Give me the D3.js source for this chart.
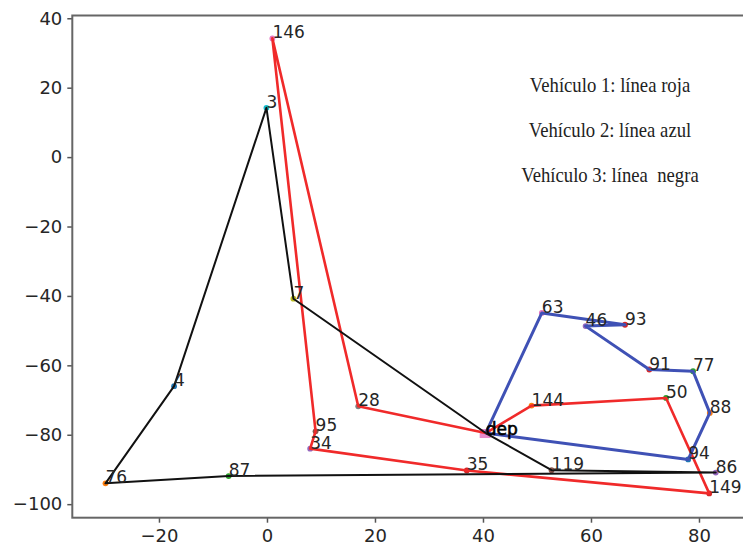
<!DOCTYPE html>
<html><head><meta charset="utf-8">
<script src="https://cdn.jsdelivr.net/npm/d3@7"></script>
<style>body{margin:0;background:#fff}svg{display:block}</style>
</head><body>
<script>
const nodeIds = ["dep","146","3","7","4","76","87","95","34","28","35","119","86","149","94","88","77","91","50","144","46","93","63"];
const nodeX   = [40.5, 1.0, -0.1, 4.9, -17.2, -29.9, -7.1, 9.0, 8.0, 16.9, 37.0, 52.7, 83.1, 81.9, 78.0, 82.0, 78.9, 70.8, 73.9, 49.0, 59.0, 66.3, 50.9];
const nodeY   = [-79.5, 34.2, 14.2, -40.8, -66.0, -94.0, -91.9, -79.0, -84.0, -71.8, -90.3, -90.2, -90.9, -96.9, -87.1, -73.7, -61.7, -61.2, -69.4, -71.6, -48.7, -48.3, -44.9];
const nodeColor = ["#e377c2","#e377c2","#17becf","#bcbd22","#1f77b4","#ff7f0e","#2ca02c","#8c564b","#9467bd","#7f7f7f","#d62728","#8c564b","#9467bd","#d62728","#1f77b4","#ff7f0e","#2ca02c","#d62728","#2ca02c","#ff7f0e","#9467bd","#d62728","#e377c2"];
const route1 = ["dep","144","50","149","35","34","95","146","28","dep"];
const route2 = ["dep","63","93","46","91","77","88","94","dep"];
const route3 = ["dep","7","3","4","76","87","86","119","dep"];
const routeColors = ["#f02a2a","#3f51b5","#111111"];
const notes = ["Vehículo 1: línea roja","Vehículo 2: línea azul","Vehículo 3: línea  negra"];
const xTicks = [-20,0,20,40,60,80];
const yTicks = [-100,-80,-60,-40,-20,0,20,40];

const W = 743, H = 548;
const svg = d3.select("body").append("svg").attr("width",W).attr("height",H);
const x = d3.scaleLinear().domain([-36.05, 88.65]).range([72.3, 745.7]);
const y = d3.scaleLinear().domain([-103.9, 40.8]).range([517.7, 15.5]);
const font = "DejaVu Sans";
const nodes = new Map(nodeIds.map((id,i)=>[id,{x:nodeX[i],y:nodeY[i],c:nodeColor[i]}]));

// markers
nodeIds.forEach(id=>{
  const n = nodes.get(id);
  if(id==="dep"){
    svg.append("rect").attr("x",x(n.x)-6).attr("y",y(n.y)-4).attr("width",11).attr("height",9)
      .attr("fill",n.c).attr("opacity",0.85);
  } else {
    svg.append("circle").attr("cx",x(n.x)).attr("cy",y(n.y)).attr("r",2.9).attr("fill",n.c);
  }
});

// routes
const line = d3.line().x(d=>x(nodes.get(d).x)).y(d=>y(nodes.get(d).y));
const widths = [2.6, 3, 2];
[route1,route2,route3].forEach((r,i)=>{
  svg.append("path").attr("d",line(r)).attr("fill","none").attr("stroke",routeColors[i])
    .attr("stroke-width", widths[i]).attr("stroke-linejoin","round");
});

// labels
nodeIds.forEach(id=>{
  const n = nodes.get(id);
  const t = svg.append("text").attr("x",x(n.x)).attr("y",y(n.y)).text(id)
    .attr("font-family",font).attr("font-size",17).attr("fill","#262626");
  if(id==="dep"){ t.attr("fill","#000").attr("stroke","#000").attr("stroke-width",0.6).attr("y",y(n.y)+2); }
});

// axes
const fmt = d=>d<0?"\u2212"+Math.abs(d):d;
const xAxis = d3.axisBottom(x).tickValues(xTicks).tickSize(5).tickPadding(7).tickFormat(fmt);
const yAxis = d3.axisLeft(y).tickValues(yTicks).tickSize(5).tickPadding(5).tickFormat(fmt);
const gx = svg.append("g").attr("transform","translate(0,517.7)").call(xAxis);
const gy = svg.append("g").attr("transform","translate(72.3,0)").call(yAxis);
[gx,gy].forEach(g=>{
  g.select(".domain").remove();
  g.selectAll(".tick line").attr("stroke","#555").attr("stroke-width",1.5);
  g.selectAll(".tick text").attr("font-family",font).attr("font-size",18).attr("fill","#262626");
});
// spines
svg.append("rect").attr("x",72.3).attr("y",15.5).attr("width",745.7-72.3).attr("height",517.7-15.5)
  .attr("fill","none").attr("stroke","#666").attr("stroke-width",2);

// notes
notes.forEach((s,i)=>{
  svg.append("text").attr("transform",`translate(610,${91.5+45*i}) scale(1,1.15)`).attr("text-anchor","middle")
    .style("white-space","pre")
    .attr("font-family","Liberation Serif").attr("font-size",18.7).attr("fill","#222").text(s);
});
</script>
</body></html>
